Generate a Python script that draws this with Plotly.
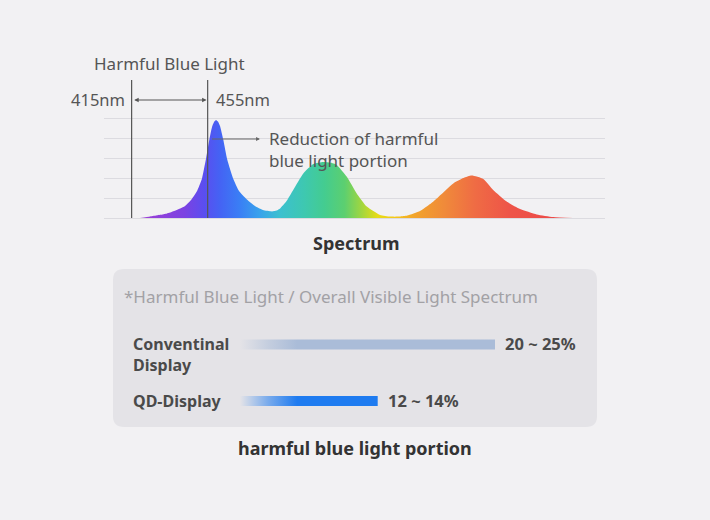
import plotly.graph_objects as go

W, H = 710, 520

# ---- data ----
wavelength_nm = [419.4, 424.7, 428.7, 432.6, 436.0, 438.7, 443.1, 446.6, 449.4, 451.9, 454.1,
                 455.9, 457.3, 458.5, 459.4, 460.4, 461.5, 463.2, 465.3, 468.5, 471.5, 475.5,
                 479.9, 484.1, 488.8, 491.3, 493.1, 496.5, 500.0, 505.3, 510.6, 515.8, 519.5,
                 522.9, 528.1, 533.4, 538.7, 545.7, 551.0, 556.0, 560.0, 566.7, 572.0,
                 575.5, 584.2, 589.5, 593.9, 600.0, 605.2, 612.3, 619.3, 628.1, 636.8, 647.3]
intensity = [0.0, 0.08, 0.14, 0.2, 0.3, 0.4, 0.6, 0.94, 1.35, 1.94, 2.95,
             3.93, 4.55, 4.82, 4.9, 4.82, 4.6, 3.93, 2.93, 1.95, 1.35, 0.94,
             0.6, 0.4, 0.33, 0.38, 0.48, 0.85, 1.4, 2.23, 2.7, 2.8, 2.77,
             2.65, 2.07, 1.23, 0.57, 0.15, 0.07, 0.07, 0.12, 0.35, 0.7,
             0.98, 1.73, 2.0, 2.12, 1.95, 1.4, 0.82, 0.45, 0.18, 0.05, 0.0]
grid_levels = [0, 1, 2, 3, 4, 5]
harmful_band_nm = [415, 455]

display_types = ["Conventinal<br>Display", "QD-Display"]
portion_upper = [25, 13.5]
portion_labels = ["20 ~ 25%", "12 ~ 14%"]

# ---- styling ----
BG = "#f2f1f3"
BOX = "#e4e3e7"
TXT = "#4a4a4a"
FONT = "Noto Sans"
# colour stops given as (wavelength, colour)
spectrum_stops = [
    (421.8, "#9a40d6"), (442.8, "#7c42e2"), (453.3, "#5a4ef0"), (461.2, "#4562f4"),
    (471.7, "#3a7ef5"), (482.2, "#38a2ec"), (492.8, "#3cc0d0"), (505.9, "#3ec8b0"),
    (516.4, "#44cc90"), (527.0, "#5ccf70"), (535.9, "#a0d640"), (544.3, "#e6dc18"),
    (553.3, "#f4c818"), (563.8, "#f2a42c"), (579.6, "#f08a3a"), (595.4, "#ef6c44"),
    (613.8, "#ee5448"), (644.8, "#ec4848"),
]
bar_colors = ["170,188,216", "30,123,240"]


def pxx(x):
    return x / W


def pxy(y):
    return 1 - y / H


g0, g1 = wavelength_nm[0], wavelength_nm[-1]
spectrum_scale = [[0.0, spectrum_stops[0][1]]]
for nm, col in spectrum_stops:
    t = min(max((nm - g0) / (g1 - g0), 0.0), 1.0)
    if t > spectrum_scale[-1][0]:
        spectrum_scale.append([t, col])
if spectrum_scale[-1][0] < 1:
    spectrum_scale.append([1.0, spectrum_stops[-1][1]])

fig = go.Figure()

# spectrum
fig.add_trace(go.Scatter(
    x=wavelength_nm, y=intensity, mode="lines", line=dict(width=0, shape="spline", smoothing=0.5),
    fill="tozeroy",
    fillgradient=dict(type="horizontal", colorscale=spectrum_scale, start=g0, stop=g1),
    hoverinfo="skip", showlegend=False, xaxis="x", yaxis="y",
))

# bars (gradient-filled rectangles drawn on the bar axes)
half = 0.0885
for i, (name, val) in enumerate(zip(display_types, portion_upper)):
    yc = len(display_types) - 1 - i
    fade = 5.6 / val
    c = bar_colors[i]
    fig.add_trace(go.Scatter(
        x=[0, val, val, 0, 0], y=[yc - half, yc - half, yc + half, yc + half, yc - half],
        mode="lines", line=dict(width=0), fill="toself",
        fillgradient=dict(type="horizontal", colorscale=[
            [0, f"rgba({c},0)"], [fade * 0.5, f"rgba({c},0.55)"], [fade, f"rgba({c},1)"], [1, f"rgba({c},1)"]]),
        hoverinfo="skip", showlegend=False, xaxis="x2", yaxis="y2",
    ))

annotations = []
shapes = []


# rounded box
def rounded_rect(x0, y0, x1, y1, r):
    pts = [
        ("M", x0 + r, y0), ("L", x1 - r, y0), ("Q", x1, y0, x1, y0 + r), ("L", x1, y1 - r),
        ("Q", x1, y1, x1 - r, y1), ("L", x0 + r, y1), ("Q", x0, y1, x0, y1 - r),
        ("L", x0, y0 + r), ("Q", x0, y0, x0 + r, y0),
    ]
    out = []
    for p in pts:
        cmd = p[0]
        coords = p[1:]
        s = []
        for k in range(0, len(coords), 2):
            s.append(f"{pxx(coords[k]):.5f},{pxy(coords[k + 1]):.5f}")
        out.append(cmd + " " + " ".join(s))
    return " ".join(out) + " Z"


shapes.append(dict(type="path", xref="paper", yref="paper", path=rounded_rect(113, 269, 597, 427, 11),
                   fillcolor=BOX, line=dict(width=0), layer="below"))

# vertical markers for harmful band
for nm in harmful_band_nm:
    shapes.append(dict(type="line", xref="x", yref="y", x0=nm, x1=nm, y0=0, y1=6.9,
                       line=dict(color="#555555", width=1.2), layer="above"))

# double arrow between 415 and 455
annotations.append(dict(x=harmful_band_nm[1] - 0.6, y=5.9, ax=harmful_band_nm[0] + 0.6, ay=5.9,
                        xref="x", yref="y", axref="x", ayref="y", text="", showarrow=True,
                        arrowhead=2, arrowside="end+start", arrowsize=0.8, arrowwidth=1.1,
                        arrowcolor="#555555"))
annotations.append(dict(x=sum(harmful_band_nm) / 2, y=7.72, xref="x", yref="y", text="Harmful Blue Light",
                        showarrow=False, font=dict(size=17, color="#555555", family=FONT)))
annotations.append(dict(x=harmful_band_nm[0], y=5.95, xref="x", yref="y", text="415nm", xanchor="right",
                        xshift=-5, showarrow=False, font=dict(size=16.5, color="#555555", family=FONT)))
annotations.append(dict(x=harmful_band_nm[1], y=5.95, xref="x", yref="y", text="455nm", xanchor="left",
                        xshift=6, showarrow=False, font=dict(size=16.5, color="#555555", family=FONT)))

# reduction pointer
annotations.append(dict(x=482.5, y=3.95, ax=456.5, ay=3.95, xref="x", yref="y", axref="x", ayref="y",
                        text="", showarrow=True, arrowhead=2, arrowsize=0.7, arrowwidth=1.1,
                        arrowcolor="#666666"))
annotations.append(dict(x=pxx(267), y=pxy(149), xref="paper", yref="paper",
                        text="Reduction of harmful<br>blue light portion", align="left",
                        xanchor="left", yanchor="middle", showarrow=False,
                        font=dict(size=17, color="#555555", family=FONT)))

annotations.append(dict(x=pxx(356), y=pxy(243), xref="paper", yref="paper", text="<b>Spectrum</b>",
                        yanchor="middle", showarrow=False, font=dict(size=18, color="#333333", family=FONT)))

annotations.append(dict(x=pxx(122), y=pxy(296.5), xref="paper", yref="paper",
                        text="*Harmful Blue Light / Overall Visible Light Spectrum", xanchor="left",
                        yanchor="middle", showarrow=False, font=dict(size=17, color="#a2a1a5", family=FONT)))

for i, (name, val, lab) in enumerate(zip(display_types, portion_upper, portion_labels)):
    yc = len(display_types) - 1 - i
    annotations.append(dict(x=pxx(131), y=yc, xref="paper", yref="y2", text=f"<b>{name}</b>",
                            xanchor="left", yanchor="top", yshift=13.5, align="left", showarrow=False,
                            font=dict(size=16, color=TXT, family=FONT)))
    annotations.append(dict(x=val, y=yc, xref="x2", yref="y2", text=f"<b>{lab}</b>", xanchor="left",
                            yshift=1, xshift=8, showarrow=False, font=dict(size=16.5, color=TXT, family=FONT)))

annotations.append(dict(x=pxx(355), y=pxy(448), xref="paper", yref="paper",
                        text="<b>harmful blue light portion</b>", yanchor="middle", showarrow=False,
                        font=dict(size=18, color="#333333", family=FONT)))

# axis geometry
x_lo, x_hi = 401.0, 664.0
fig.update_layout(
    width=W, height=H, margin=dict(l=0, r=0, t=0, b=0),
    paper_bgcolor=BG, plot_bgcolor="rgba(0,0,0,0)",
    showlegend=False, annotations=annotations, shapes=shapes,
    xaxis=dict(domain=[pxx(104), pxx(605)], range=[x_lo - 0.526, x_hi], showgrid=False, zeroline=False,
               showticklabels=False, showline=False, fixedrange=True),
    yaxis=dict(domain=[pxy(228), pxy(60)], range=[-0.5, 7.9], tickvals=grid_levels, showgrid=True,
               gridcolor="#dcdbe0", gridwidth=1, zeroline=False, showticklabels=False, showline=False,
               fixedrange=True),
    xaxis2=dict(domain=[pxx(240), pxx(495)], range=[0, portion_upper[0]], visible=False, anchor="y2"),
    yaxis2=dict(domain=[pxy(420), pxy(320)], range=[-0.336, 1.434], visible=False, anchor="x2"),
)

fig.write_html(
    "out.html",
    config={"displayModeBar": False, "staticPlot": True},
    post_script="document.body.style.margin='0';document.body.style.overflow='hidden';"
                "document.body.style.background='" + BG + "';",
)
